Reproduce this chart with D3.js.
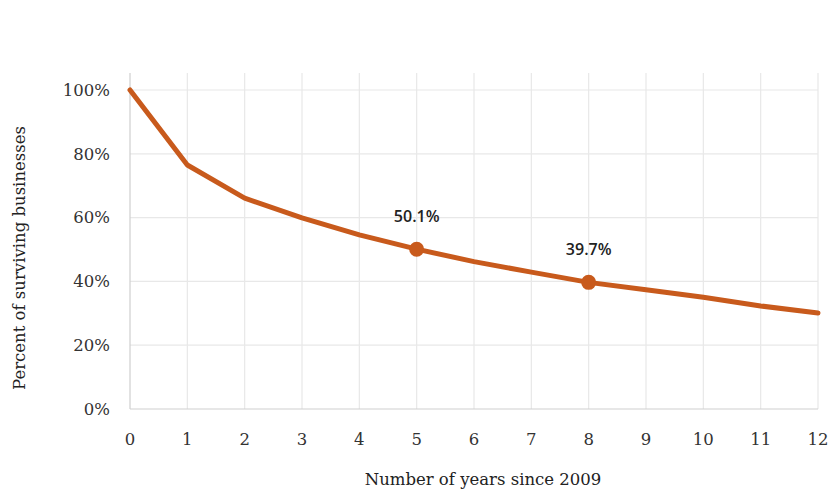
<!DOCTYPE html>
<html><head><meta charset="utf-8">
<script src="https://cdn.jsdelivr.net/npm/d3@7"></script>
<style>body{margin:0;background:#fff}svg{display:block}</style>
</head><body>
<svg id="c" width="829" height="492"></svg>
<script>
const years = [0,1,2,3,4,5,6,7,8,9,10,11,12];
const survival = [100,76.5,66.1,59.9,54.6,50.1,46.2,42.9,39.7,37.4,35.0,32.3,30.1];
const highlightYears = [5,8];
const yTicks = [0,20,40,60,80,100];
const yLabel = "Percent of surviving businesses";
const xLabel = "Number of years since 2009";

const svg = d3.select("#c");
const x = d3.scaleLinear().domain([0,12]).range([130,818]);
const y = d3.scaleLinear().domain([0,100]).range([409,90]);
const serif = "'DejaVu Serif', serif";

// grid
svg.append("g").selectAll("line").data(years.slice(1)).join("line")
  .attr("x1",d=>x(d)).attr("x2",d=>x(d)).attr("y1",73).attr("y2",y(0))
  .attr("stroke","#e8e8e8").attr("stroke-width",1.2);
svg.append("g").selectAll("line").data(yTicks.slice(1)).join("line")
  .attr("x1",x(0)).attr("x2",x(12)).attr("y1",d=>y(d)).attr("y2",d=>y(d))
  .attr("stroke","#e8e8e8").attr("stroke-width",1.2);
// axes lines
svg.append("line").attr("x1",x(0)).attr("x2",x(0)).attr("y1",73).attr("y2",y(0))
  .attr("stroke","#cfcfcf").attr("stroke-width",1.2);
svg.append("line").attr("x1",x(0)).attr("x2",x(12)).attr("y1",y(0)).attr("y2",y(0))
  .attr("stroke","#cfcfcf").attr("stroke-width",1.2);

// y ticks
svg.append("g").selectAll("text").data(yTicks).join("text")
  .attr("x",110).attr("y",d=>y(d)).attr("dy","0.35em").attr("text-anchor","end")
  .attr("font-family",serif).attr("font-size",16.5).attr("fill","#333")
  .text(d=>d+"%");
// x ticks
svg.append("g").selectAll("text").data(years).join("text")
  .attr("x",d=>x(d)).attr("y",439).attr("dy","0.35em").attr("text-anchor","middle")
  .attr("font-family",serif).attr("font-size",16.5).attr("fill","#333")
  .text(d=>d);

// labels
svg.append("text").attr("transform","translate(19,258) rotate(-90)")
  .attr("text-anchor","middle").attr("dy","0.35em")
  .attr("font-family",serif).attr("font-size",16.5).attr("fill","#222").text(yLabel);
svg.append("text").attr("x",483).attr("y",479).attr("text-anchor","middle").attr("dy","0.35em")
  .attr("font-family",serif).attr("font-size",16.5).attr("fill","#222").text(xLabel);

// line
const data = years.map((d,i)=>({x:d,y:survival[i]}));
svg.append("path").datum(data)
  .attr("d",d3.line().x(d=>x(d.x)).y(d=>y(d.y)))
  .attr("fill","none").attr("stroke","#c85a1c").attr("stroke-width",5)
  .attr("stroke-linejoin","round").attr("stroke-linecap","round");

const hl = data.filter(d=>highlightYears.includes(d.x));
svg.append("g").selectAll("circle").data(hl).join("circle")
  .attr("cx",d=>x(d.x)).attr("cy",d=>y(d.y)).attr("r",7.5).attr("fill","#c85a1c");
svg.append("g").selectAll("text").data(hl).join("text")
  .attr("x",d=>x(d.x)).attr("y",d=>y(d.y)-27).attr("text-anchor","middle")
  .attr("font-family","'Open Sans', sans-serif").attr("font-weight",600)
  .attr("font-size",16).attr("fill","#222").text(d=>d.y.toFixed(1)+"%");
</script>
</body></html>
